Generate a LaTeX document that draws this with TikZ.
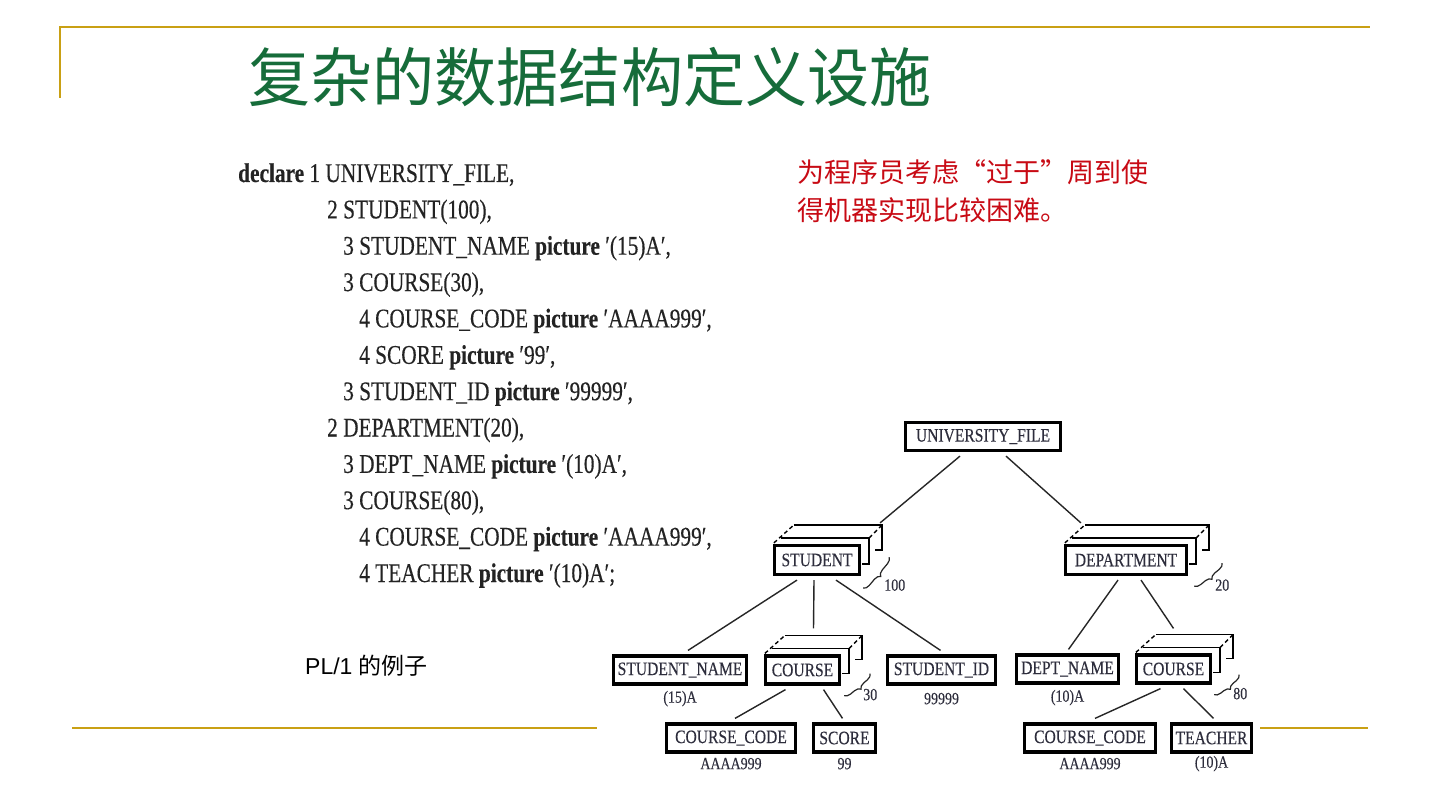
\documentclass[tikz,border=0pt]{standalone}
\usepackage{fontspec}
\setmainfont{Liberation Serif}
\newfontfamily\codefont{Liberation Serif}[FakeStretch=0.79, FakeBold=0.3]
\newfontfamily\treefont{Liberation Serif}[FakeStretch=0.82, FakeBold=0.2]
\newfontfamily\cjk{Noto Sans CJK SC}
\newfontfamily\sansf{Liberation Sans}
\usetikzlibrary{decorations.pathreplacing,calc}
\definecolor{gold}{RGB}{201,160,20}
\definecolor{titlegreen}{RGB}{22,108,58}
\definecolor{notered}{RGB}{200,10,20}
\definecolor{codegray}{RGB}{35,35,35}
\definecolor{treetext}{RGB}{45,45,60}
\tikzset{
  goldline/.style={draw=gold, line width=1.8pt},
  codeline/.style={anchor=base west, inner sep=0, font=\codefont\fontsize{27}{27}\selectfont, text=codegray},
  treebox/.style={draw=black, line width=3.2pt, minimum height=28, inner sep=0, font=\treefont\fontsize{19}{19}\selectfont, text=treetext},
  stackline/.style={draw=black, line width=1.4pt},
  edge/.style={draw=black!85, line width=1.4pt},
  bracestyle/.style={draw=black!85, line width=1.2pt, decorate, decoration={brace, amplitude=6pt}},
  sublabel/.style={inner sep=0, font=\treefont\fontsize{17}{17}\selectfont, text=treetext},
  numlabel/.style={anchor=west, inner sep=0, font=\treefont\fontsize{17}{17}\selectfont, text=treetext},
}
\newcommand{\stackdeco}[1]{%
  \draw[stackline] ([shift={(8,-6)}]#1.north west) -- ([shift={(8,-6)}]#1.north east) -- ([shift={(8,-12)}]#1.south east) -- ([shift={(1,-12)}]#1.south east);
  \draw[stackline] ([shift={(21,-19)}]#1.north west) -- ([shift={(21,-19)}]#1.north east) -- ([shift={(21,-26)}]#1.south east) -- ([shift={(14,-26)}]#1.south east);
  \draw[stackline,dashed,dash pattern=on 4pt off 3pt] ([shift={(1,-1)}]#1.north west) -- ([shift={(21,-19)}]#1.north west);
  \draw[stackline,dashed,dash pattern=on 4pt off 3pt] ([shift={(8,-6)}]#1.north east) -- ([shift={(21,-19)}]#1.north east);
}
\begin{document}
\begin{tikzpicture}[x=1pt,y=-1pt]
\useasboundingbox (0,0) rectangle (1440,810);
\fill[white] (0,0) rectangle (1440,810);
% frame lines
\draw[goldline] (60,98) -- (60,27) -- (1370,27);
\draw[goldline] (72,728) -- (597,728);
\draw[goldline] (1260,728) -- (1368,728);
% title
\node[inner sep=0, text=titlegreen, font=\cjk\fontsize{64}{64}\selectfont, xscale=0.97] (title) at (590,77) {复杂的数据结构定义设施};
% red note
\node[anchor=west, inner sep=0, text=notered, font=\cjk\fontsize{27}{27}\selectfont] (note1) at (797,172) {为程序员考虑“过于”周到使};
\node[anchor=west, inner sep=0, text=notered, font=\cjk\fontsize{27}{27}\selectfont] (note2) at (797,210) {得机器实现比较困难。};
% code
\node[codeline] (c1) at (238,182) {\textbf{declare} 1 UNIVERSITY\_FILE,};
\node[codeline] (c2) at (327,218.4) {2 STUDENT(100),};
\node[codeline] (c3) at (343,254.7) {3 STUDENT\_NAME \textbf{picture} ′(15)A′,};
\node[codeline] (c4) at (343,291.1) {3 COURSE(30),};
\node[codeline] (c5) at (359,327.4) {4 COURSE\_CODE \textbf{picture} ′AAAA999′,};
\node[codeline] (c6) at (359,363.8) {4 SCORE \textbf{picture} ′99′,};
\node[codeline] (c7) at (343,400.2) {3 STUDENT\_ID \textbf{picture} ′99999′,};
\node[codeline] (c8) at (327,436.5) {2 DEPARTMENT(20),};
\node[codeline] (c9) at (343,472.9) {3 DEPT\_NAME \textbf{picture} ′(10)A′,};
\node[codeline] (c10) at (343,509.2) {3 COURSE(80),};
\node[codeline] (c11) at (359,545.6) {4 COURSE\_CODE \textbf{picture} ′AAAA999′,};
\node[codeline] (c12) at (359,582) {4 TEACHER \textbf{picture} ′(10)A′;};
% caption
\node[anchor=west, inner sep=0, font=\sansf\fontsize{23}{23}\selectfont] (cap) at (305,666) {PL/1 {\cjk 的例子}};
% tree nodes
\node[treebox, minimum width=155] (uf) at (983,436.5) {UNIVERSITY\_FILE};
\node[treebox, minimum width=85, minimum height=29] (stu) at (817,560) {STUDENT};
\node[treebox, minimum width=121, minimum height=29] (dep) at (1126,560) {DEPARTMENT};
\node[treebox, minimum width=133] (sn) at (680,670) {STUDENT\_NAME};
\node[treebox, minimum width=74] (cs) at (802.5,670) {COURSE};
\node[treebox, minimum width=108] (sid) at (941.5,670) {STUDENT\_ID};
\node[treebox, minimum width=102] (dn) at (1067.5,669) {DEPT\_NAME};
\node[treebox, minimum width=74] (cd) at (1173.5,669) {COURSE};
\node[treebox, minimum width=129] (ccs) at (731,738) {COURSE\_CODE};
\node[treebox, minimum width=62] (sc) at (844.5,738) {SCORE};
\node[treebox, minimum width=131] (ccd) at (1090,738) {COURSE\_CODE};
\node[treebox, minimum width=80] (te) at (1211.5,738) {TEACHER};
% stacks
\stackdeco{stu}
\stackdeco{dep}
\stackdeco{cs}
\stackdeco{cd}
% braces and counts
\draw[bracestyle] ([shift={(28,-19)}]stu.south east) -- ([shift={(2,12)}]stu.south east);
\node[numlabel] (n100) at ([shift={(23,9)}]stu.south east) {100};
\draw[bracestyle] ([shift={(34,-13)}]dep.south east) -- ([shift={(6,10)}]dep.south east);
\node[numlabel] (n20) at ([shift={(27,9)}]dep.south east) {20};
\draw[bracestyle] ([shift={(29,-12)}]cs.south east) -- ([shift={(3,10)}]cs.south east);
\node[numlabel] (n30) at ([shift={(22,9)}]cs.south east) {30};
\draw[bracestyle] ([shift={(27,-10)}]cd.south east) -- ([shift={(2,10)}]cd.south east);
\node[numlabel] (n80) at ([shift={(21,9)}]cd.south east) {80};
% sublabels
\node[sublabel] (lsn) at ([yshift=-13]sn.south) {(15)A};
\node[sublabel] (lsid) at ([yshift=-13]sid.south) {99999};
\node[sublabel] (ldn) at ([yshift=-13]dn.south) {(10)A};
\node[sublabel] (lccs) at ([yshift=-10]ccs.south) {AAAA999};
\node[sublabel] (lsc) at ([yshift=-10]sc.south) {99};
\node[sublabel] (lccd) at ([yshift=-10]ccd.south) {AAAA999};
\node[sublabel] (lte) at ([yshift=-10]te.south) {(10)A};
% edges
\draw[edge] ([shift={(-23,4)}]uf.south) -- ([shift={(19,-21)}]stu.north east);
\draw[edge] ([shift={(23,4)}]uf.south) -- ([shift={(17,-21)}]dep.north west);
\draw[edge] ([shift={(-20,4)}]stu.south) -- ([shift={(8,-4)}]sn.north);
\draw[edge] ([shift={(-3,4)}]stu.south) -- ([shift={(11,-26)}]cs.north);
\draw[edge] ([shift={(19,4)}]stu.south) -- ([shift={(-1,-4)}]sid.north);
\draw[edge] ([shift={(-8,4)}]dep.south) -- ([shift={(1,-4)}]dn.north);
\draw[edge] ([shift={(15,4)}]dep.south) -- ([shift={(0,-25)}]cd.north);
\draw[edge] ([shift={(-17,4)}]cs.south) -- ([shift={(4,-4)}]ccs.north);
\draw[edge] ([shift={(21,4)}]cs.south) -- ([shift={(-2,-4)}]sc.north);
\draw[edge] ([shift={(-13,4)}]cd.south) -- ([shift={(5,-4)}]ccd.north);
\draw[edge] ([shift={(10,4)}]cd.south) -- ([shift={(2,-4)}]te.north);
\end{tikzpicture}
\end{document}
